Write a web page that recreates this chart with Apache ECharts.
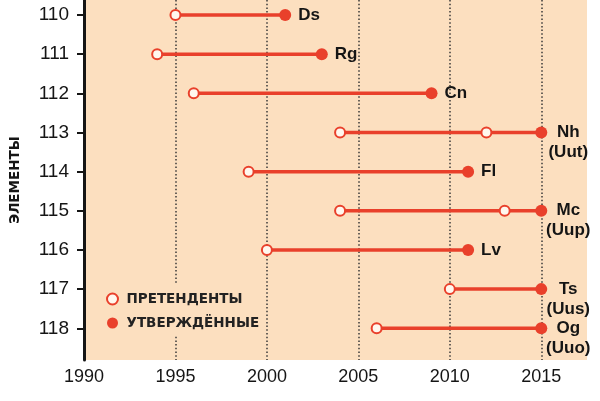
<!DOCTYPE html>
<html>
<head>
<meta charset="utf-8">
<script src="https://cdn.jsdelivr.net/npm/echarts@6/dist/echarts.min.js"></script>
<style>
  html, body { margin: 0; padding: 0; background: #fff; }
  #main { width: 600px; height: 401px; }
</style>
</head>
<body>
<div id="main"></div>
<script>
// элементы и годы
var elements = [110, 111, 112, 113, 114, 115, 116, 117, 118];
var symbols = ['Ds', 'Rg', 'Cn', 'Nh', 'Fl', 'Mc', 'Lv', 'Ts', 'Og'];
var oldNames = ['', '', '', 'Uut', '', 'Uup', '', 'Uus', 'Uuo'];
var claimed = [[1995], [1994], [1996], [2004, 2012], [1999], [2004, 2013], [2000], [2010], [2006]];
var confirmed = [2001, 2003, 2009, 2015, 2011, 2015, 2011, 2015, 2015];
var yearTicks = [1990, 1995, 2000, 2005, 2010, 2015];

var RED = '#e9402b';
var BEIGE = '#fcdfbf';
var INK = '#151515';

var series = [];

// соединительные линии
elements.forEach(function (el, i) {
  series.push({
    type: 'line',
    silent: true,
    showSymbol: false,
    z: 1,
    lineStyle: { color: RED, width: 3.5 },
    data: [[claimed[i][0], el], [confirmed[i], el]]
  });
});

var claimData = [];
elements.forEach(function (el, i) {
  claimed[i].forEach(function (y) { claimData.push([y, el]); });
});

series.push({
  name: 'ПРЕТЕНДЕНТЫ',
  type: 'scatter',
  symbol: 'circle',
  symbolSize: 10,
  z: 3,
  itemStyle: { color: '#fff7ee', borderColor: RED, borderWidth: 2, opacity: 1 },
  data: claimData
});

var confData = elements.map(function (el, i) {
  var item = { value: [confirmed[i], el] };
  if (oldNames[i]) {
    item.label = {
      position: 'inside',
      align: 'center',
      verticalAlign: 'middle',
      offset: [27, 10],
      lineHeight: 20,
      formatter: symbols[i] + '\n(' + oldNames[i] + ')'
    };
  }
  return item;
});

series.push({
  name: 'УТВЕРЖДЁННЫЕ',
  type: 'scatter',
  symbol: 'circle',
  symbolSize: 12,
  z: 4,
  itemStyle: { color: RED, opacity: 1 },
  label: {
    show: true,
    position: 'right',
    distance: 7,
    color: INK,
    fontFamily: 'Liberation Sans',
    fontWeight: 'bold',
    fontSize: 17,
    formatter: function (p) { return symbols[p.dataIndex]; }
  },
  data: confData
});

var chart = echarts.init(document.getElementById('main'));
chart.setOption({
  animation: false,
  backgroundColor: '#fff',
  grid: {
    left: 82, right: 13, top: 0, bottom: 41,
    show: true, backgroundColor: BEIGE, borderWidth: 0
  },
  legend: {
    orient: 'vertical',
    left: 100,
    top: 283,
    padding: [9, 4, 5, 6],
    itemGap: 10,
    itemWidth: 18,
    itemHeight: 11,
    backgroundColor: BEIGE,
    textStyle: { color: '#222', fontFamily: 'DejaVu Sans', fontWeight: 'bold', fontSize: 13.5 },
    data: [
      { name: 'ПРЕТЕНДЕНТЫ', icon: 'circle', itemStyle: { color: '#fff7ee', borderColor: RED, borderWidth: 2 } },
      { name: 'УТВЕРЖДЁННЫЕ', icon: 'circle', itemStyle: { color: RED } }
    ]
  },
  xAxis: {
    type: 'value',
    min: 1990,
    max: 2017.5,
    interval: 5,
    axisLine: { show: false },
    axisTick: { show: false },
    axisLabel: {
      color: INK, fontFamily: 'Liberation Sans', fontSize: 18, margin: 8,
      customValues: yearTicks,
      formatter: function (v) { return String(v); }
    },
    splitLine: {
      show: true,
      showMinLine: false,
      showMaxLine: false,
      lineStyle: { color: '#3a3a3a', width: 1.5, type: [1.5, 2.2] }
    }
  },
  yAxis: {
    type: 'value',
    inverse: true,
    min: 109.617,
    max: 118.81,
    name: 'ЭЛЕМЕНТЫ',
    nameLocation: 'middle',
    nameRotate: 90,
    nameGap: 62,
    nameTextStyle: { color: INK, fontFamily: 'DejaVu Sans', fontWeight: 'bold', fontSize: 13.5 },
    axisLine: { show: true, lineStyle: { color: INK, width: 3 } },
    axisTick: { show: true, length: 7, lineStyle: { color: INK, width: 2 }, customValues: elements },
    axisLabel: { color: INK, fontFamily: 'Liberation Sans', fontSize: 19, margin: 15, customValues: elements },
    splitLine: { show: false }
  },
  series: series
});
</script>
</body>
</html>
